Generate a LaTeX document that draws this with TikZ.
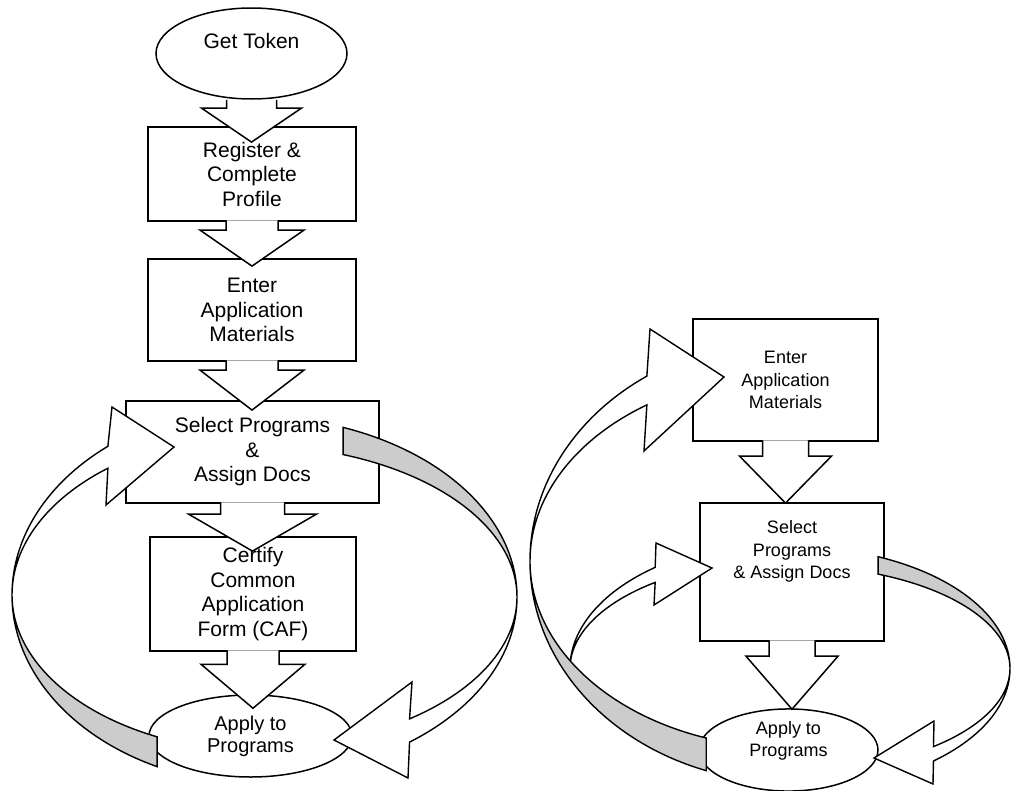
\documentclass[tikz,border=0pt]{standalone}
\usepackage{fontspec}
\setmainfont{Liberation Sans}
\usetikzlibrary{shapes.geometric,calc}
\definecolor{bandgray}{RGB}{204,204,204}

% block arrow from #1 down into #2: start shift, tip depth, head length, half shaft
\newcommand{\flowarrow}[6]{%
  \filldraw[flow] ($(#1.south)+(-#6,#3)$)
    -- ($(#1.south |- #2.north)+(-#6,{#4-#5})$) -- ++(-#6,0)
    -- ($(#1.south |- #2.north)+(0,#4)$)
    -- ($(#1.south |- #2.north)+({2*#6},{#4-#5})$) -- ++(-#6,0)
    -- ($(#1.south)+(#6,#3)$);}

\begin{document}
\begin{tikzpicture}[x=1pt,y=-1pt,
    procbox/.style={draw,line width=1.8pt,fill=white,align=center,inner sep=0pt},
    termellipse/.style={draw,ellipse,line width=1.5pt,fill=white,align=center,inner sep=0pt},
    flow/.style={line width=1.5pt,fill=white,line join=miter},
    loopwhite/.style={draw,line width=1.4pt,fill=white,line join=miter},
    loopgray/.style={draw,line width=1.4pt,fill=bandgray,line join=miter},
    leftfont/.style={font=\fontsize{21}{24.5}\selectfont},
    applyfont/.style={font=\fontsize{20}{22}\selectfont},
    rightfont/.style={font=\fontsize{18}{22.5}\selectfont}]
    \useasboundingbox (0,0) rectangle (1012,790);
    % left column
    \node[termellipse,leftfont,minimum width=191pt,minimum height=91pt](tok)at (251.5,53.5){Get Token\\~};
    \node[procbox,leftfont,minimum width=208pt,minimum height=94pt](reg)at (252,174){Register \&\\Complete\\Profile};
    \node[procbox,leftfont,minimum width=208pt,minimum height=102pt](entL)at (252,310){Enter\\Application\\Materials};
    \node[procbox,leftfont,minimum width=253pt,minimum height=102pt](selL)at (252.5,452){Select Programs\\\&\\Assign Docs};
    \node[procbox,leftfont,minimum width=206pt,minimum height=114pt](cert)at (253,594){Certify\\Common\\Application\\Form (CAF)};
    \node[termellipse,applyfont,minimum width=203pt,minimum height=82pt](appL)at (250.5,736){Apply to\\Programs};
    % right column
    \node[procbox,rightfont,minimum width=185pt,minimum height=122pt](entR)at (785.5,380){Enter\\Application\\Materials};
    \node[procbox,rightfont,minimum width=184pt,minimum height=138pt](selR)at (792,572){Select\\Programs\\\& Assign Docs\\~\\~};
    \node[termellipse,rightfont,minimum width=179pt,minimum height=82pt](appR)at (788.5,750){Apply to\\Programs\\~};
    % block arrows
    \flowarrow{tok}{reg}{0}{16}{34}{25}
    \flowarrow{reg}{entL}{-1.5}{8}{36}{26}
    \flowarrow{entL}{selL}{-1.5}{10}{40}{26}
    \flowarrow{selL}{cert}{-1.5}{15}{37}{32}
    \flowarrow{cert}{appL}{-1.5}{14}{44}{26}
    \flowarrow{entR}{selR}{-1.5}{1}{47}{23}
    \flowarrow{selR}{appR}{-1.5}{1}{53}{23}
    % loop arrows, left column
    \coordinate (hubL) at (266,595);
    \coordinate (hubLR) at (250,597);
    \filldraw[loopgray] (hubL) ++(180:254 and 190) arc[start angle=180,end angle=115.4,x radius=254,y radius=190]
        -- ($(hubL)+(115.4:254 and 157)$) arc[start angle=115.4,end angle=180,x radius=254,y radius=157] -- cycle;
    \filldraw[loopwhite] (hubL) ++(231.5:254 and 190) arc[start angle=231.5,end angle=180,x radius=254,y radius=190]
        arc[start angle=180,end angle=231.5,x radius=254,y radius=162]
        -- (106,505) -- (174,447) -- (112,407) -- cycle;
    \filldraw[loopgray] (hubLR) ++(290.4:267 and 181) arc[start angle=290.4,end angle=360,x radius=267,y radius=181]
        arc[start angle=0,end angle=-69.6,x radius=267,y radius=152] -- cycle;
    \filldraw[loopwhite] (hubLR) ++(0:267 and 181) arc[start angle=0,end angle=53.3,x radius=267,y radius=181]
        -- (408,778) -- (334,740) -- (412,682)
        -- ($(hubLR)+(53.3:267 and 152)$) arc[start angle=53.3,end angle=0,x radius=267,y radius=152] -- cycle;
    % loop arrows, right column
    \coordinate (hubRS) at (790,668.5);
    \coordinate (hubRB) at (790,561);
    \filldraw[loopwhite] (hubRS) ++(232.2:220 and 128) arc[start angle=232.2,end angle=180,x radius=220,y radius=128]
        arc[start angle=180,end angle=232.2,x radius=220,y radius=109]
        -- (654,605) -- (712,568) -- (656,543) -- cycle;
    \filldraw[loopgray] (hubRS) ++(293.6:220 and 122) arc[start angle=293.6,end angle=360,x radius=220,y radius=122]
        arc[start angle=0,end angle=-66.4,x radius=220,y radius=103] -- cycle;
    \filldraw[loopwhite] (hubRS) ++(0:220 and 122) arc[start angle=0,end angle=49.3,x radius=220,y radius=122]
        -- (933,784) -- (874,758) -- (934,721)
        -- ($(hubRS)+(49.3:220 and 103)$) arc[start angle=49.3,end angle=0,x radius=220,y radius=103] -- cycle;
    \filldraw[loopgray] (hubRB) ++(180:260 and 221.5) arc[start angle=180,end angle=108.8,x radius=260,y radius=221.5]
        -- ($(hubRB)+(108.8:260 and 187)$) arc[start angle=108.8,end angle=180,x radius=260,y radius=187] -- cycle;
    \filldraw[loopwhite] (hubRB) ++(236.6:260 and 221.5) arc[start angle=236.6,end angle=180,x radius=260,y radius=221.5]
        arc[start angle=180,end angle=236.6,x radius=260,y radius=187]
        -- (644,451) -- (724,377) -- (650,329) -- cycle;
\end{tikzpicture}
\end{document}
